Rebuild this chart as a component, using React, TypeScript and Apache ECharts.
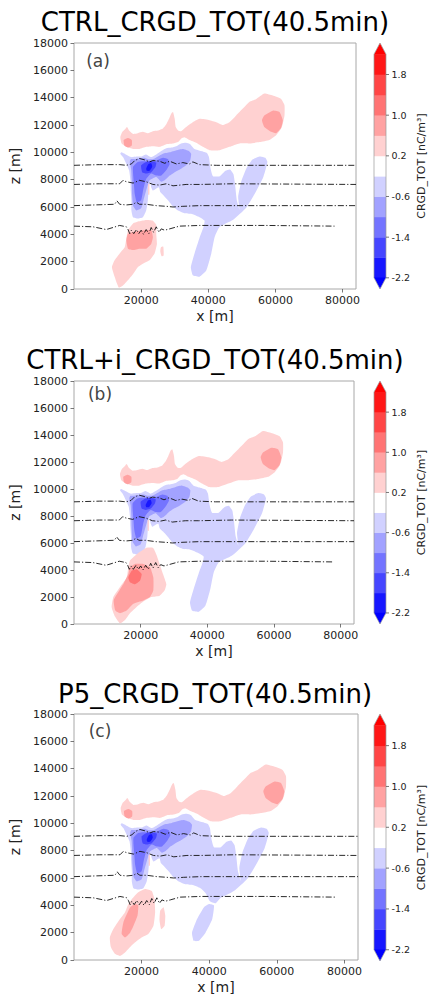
import React, { useEffect, useRef } from "react";
import * as echarts from "echarts";

// ---------- axes / colour scale ----------
const xTickValues = [20000, 40000, 60000, 80000];
const xRange = [0, 84000];
const zRange = [0, 18000];
const levels = [-2.2, -1.8, -1.4, -1.0, -0.6, -0.2, 0.2, 0.6, 1.0, 1.4, 1.8, 2.2];
const bandColors = [
  "#1717ff", "#4646ff", "#7474ff", "#a2a2ff", "#d1d1ff", "#ffffff",
  "#ffd1d1", "#ffa2a2", "#ff7474", "#ff4646", "#ff1717",
];
const underColor = "#0000ff";
const overColor = "#ff0000";
const cbTickValues = [-2.2, -1.4, -0.6, 0.2, 1.0, 1.8];
const titles = ["CTRL_CRGD_TOT(40.5min)", "CTRL+i_CRGD_TOT(40.5min)", "P5_CRGD_TOT(40.5min)"];
const tags = ["(a)", "(b)", "(c)"];
const cbLabel = "CRGD_TOT [nC/m³]";

// ---------- contour regions [x (m), z (m)] ----------
const upperRedPale = [[13800,11100],[14400,11500],[15400,11750],[15800,11850],[16400,11600],[17600,11350],[19000,11400],[20500,11500],[22000,11400],[23500,11550],[25000,11600],[26500,11750],[27500,12050],[28300,12450],[29000,12850],[29500,12950],[30000,12450],[30300,11850],[31000,11600],[31900,11550],[32900,11750],[33400,11850],[35400,12200],[37400,12450],[40400,12350],[42400,12200],[44300,12000],[46300,12200],[48300,12700],[50300,13200],[52300,13700],[54300,13900],[56700,14300],[59200,14150],[61700,13900],[62700,13450],[62700,12700],[62200,12100],[61700,11750],[60200,11250],[58200,10900],[55300,10750],[52300,10650],[49300,10650],[46300,10400],[43400,10150],[40400,10150],[38400,10400],[36400,10700],[34400,10900],[32900,11100],[31900,11000],[31000,10750],[29500,10650],[27500,10600],[25500,10400],[23500,10450],[21500,10400],[19500,10250],[17600,10250],[15600,10400],[14200,10650]];
const upperRedDarkL = [[14800,10900],[16100,11050],[17200,10900],[17200,10500],[16100,10350],[15000,10500]];
const upperRedDarkR = [[56700,12700],[59200,13050],[61200,12950],[62200,12350],[61700,11800],[60200,11400],[58700,11500],[56700,11850],[56000,12350]];

const blueMainUpper = [[14100,10000],[15400,9850],[17100,9650],[18600,9700],[20000,9700],[21500,9850],[23000,9650],[24500,9850],[26000,10100],[27500,10300],[29000,10350],[30500,10450],[31900,10650],[33400,10700],[34600,10600],[35900,10250],[37900,10100],[39600,9950],[40200,9650],[40700,8800],[41400,8250],[43400,8250],[45100,8650],[46500,8750],[47500,8400],[48000,7600],[48500,6500],[49300,5800],[48900,6750],[49800,7850],[51300,8800],[53100,9450],[55300,9700],[57000,9600],[57600,9300],[56400,8200],[53800,6950],[51300,5950],[47300,5050],[43400,4550]];
const blueLowerArmAB = [[41900,3800],[40900,2600],[39400,1350],[37400,900],[35400,1000],[34800,1600],[35900,2600],[37400,3750],[38600,4550],[38900,5000]];
const blueNeckC = [[41900,4150],[40200,4300],[38900,4900]];
const blueMainLower = [[37400,5250],[34900,5500],[32900,5550],[31000,5750],[29300,6100],[28000,6500],[26700,6850],[25700,7100],[25300,7450],[24500,7350],[23500,7200],[23000,7450],[22700,7850],[22300,7450],[22000,6500],[21500,5750],[20500,5250],[19000,5150],[17600,5250],[17100,5750],[17100,6500],[16900,7200],[16800,7950],[16400,8700],[15600,9150],[14600,9650],[13800,9900]];
const blueArmC = [[39900,4100],[41400,4000],[40900,3000],[38900,2000],[36900,1400],[35400,1400],[34900,2000],[36400,3000],[38400,3850]];
const blueMid = [[16900,9500],[18100,9500],[19500,9550],[21000,9600],[22000,9500],[23500,9500],[25000,9700],[26500,9900],[28500,10000],[30500,10150],[32400,10250],[34200,10100],[34900,9900],[34600,9400],[33400,9050],[31900,8800],[30000,8550],[28500,8300],[27000,7950],[26000,7850],[24500,8200],[22500,7950],[21500,7200],[20700,6500],[20000,5900],[18600,5750],[17600,6100],[17300,6950],[17200,7950],[17000,8800],[16600,9300]];
const blueDeep = [[17600,8950],[19000,9300],[20500,9350],[22000,9350],[24000,9350],[26500,9600],[28000,9500],[28500,9150],[27500,8700],[26000,8300],[24500,8300],[23000,8450],[21500,8050],[20700,7350],[20000,6500],[18700,6350],[18100,6950],[17800,7850],[17600,8450]];
const blueDeeper = [[20000,9050],[21500,9300],[23000,9350],[24500,9250],[24300,8950],[23000,8550],[21500,8450],[20300,8550]];
const blueCore = [[21500,8800],[22200,9150],[23000,9200],[23300,8950],[22500,8650],[21700,8650]];
const redSlit = [[22100,7700],[22450,7700],[22450,6900],[22100,6900]];

const lowerRedPaleA = [[19500,4950],[21500,5050],[23500,5000],[24500,4700],[24500,4050],[24700,3300],[24000,2600],[22500,2100],[20500,1850],[19000,1600],[17600,1100],[16100,650],[14600,250],[13400,100],[12800,400],[12100,900],[11300,1600],[12100,2100],[13600,2600],[15100,3050],[15600,3700],[16100,4300],[17600,4800]];
const lowerRedMidA = [[16100,4050],[20500,4300],[23000,4300],[23500,3800],[23000,3300],[21500,2950],[19500,2950],[17600,2850],[16100,2950],[15600,3550]];
const redSpotA = [[25900,3050],[26600,3100],[26700,2450],[26100,2400],[25700,2750]];

const lowerRedPaleB = [[11800,2000],[13800,2750],[15800,3450],[16300,4200],[16800,4700],[18700,5150],[21700,5650],[23700,5650],[24700,5150],[25700,4450],[26700,3700],[27700,2950],[27200,2500],[25700,2100],[23200,2000],[20700,1650],[18700,1250],[16800,800],[15300,300],[13800,50],[12300,550],[11300,1250]];
const lowerRedMidB = [[11900,1750],[13400,2400],[14900,3000],[16300,3700],[16800,4200],[18300,4450],[20800,4450],[22800,4200],[23800,3450],[23800,2500],[22800,2000],[20800,1750],[17800,1500],[15800,1000],[13800,800],[12400,1000]];
const lowerRedDarkB = [[16300,3450],[17300,3950],[18800,4050],[20300,3700],[19800,3200],[18300,2950],[16800,3100]];

const lowerRedPaleC = [[21000,5200],[23000,5050],[23800,4450],[24000,3500],[23500,2500],[22000,1900],[20000,1650],[18100,1300],[16600,950],[15100,550],[13600,300],[12100,450],[10900,950],[10600,1650],[11600,2250],[13600,3000],[15100,3500],[16100,4100],[17100,4450],[19000,4950]];
const lowerRedMidC = [[14600,2750],[15600,3350],[16600,3850],[18100,4100],[19000,4000],[18800,3250],[17600,2500],[16600,2000],[15100,1650],[14100,1900]];
const redSpotC = [[25500,3600],[26500,3850],[27000,3250],[26800,2500],[25800,2250],[25300,2900]];

// ---------- dash-dot contour lines ----------
const iso1 = [[0,9050],[7600,9100],[13600,9100],[15600,9050],[17100,9150],[18100,9400],[19500,9550],[21000,9450],[22500,9300],[23500,9400],[25500,9350],[27000,9200],[28500,9350],[30500,9150],[32400,9250],[34400,9150],[35400,9300],[37400,9100],[42400,9050],[47300,9050],[84000,9050]];
const iso2 = [[0,7650],[7600,7700],[13600,7700],[14600,7950],[15600,7850],[17600,7750],[19500,7950],[21500,7850],[23500,7650],[25500,7600],[27500,7700],[29500,7550],[33400,7650],[37400,7650],[47300,7700],[84000,7650]];
const iso3 = [[0,6100],[12100,6200],[12800,6450],[13600,6200],[15600,6150],[17600,6200],[18600,6350],[19500,6200],[21500,6200],[24500,6100],[27500,6050],[29500,6000],[32400,6050],[37400,6100],[47300,6100],[84000,6100]];
const iso4 = [[0,4600],[5700,4550],[9600,4350],[11600,4500],[13600,4650],[15600,4550],[16100,4350],[16600,4050],[17100,4300],[17800,4050],[18600,4350],[19300,4050],[20000,4300],[20700,4000],[21500,4350],[22300,4050],[23000,4500],[23700,4150],[24500,4550],[25300,4150],[26000,4400],[27000,4300],[28500,4400],[31400,4600],[37400,4650],[47300,4650],[57200,4650],[77600,4600]];
const isoLines = [iso1, iso2, iso3, iso4];

type Shape = { band: number; pts: number[][] };

const blueA = [...blueMainUpper, ...blueLowerArmAB, ...blueMainLower];
const blueC = [...blueMainUpper, ...blueNeckC, ...blueMainLower];

const commonUpper: Shape[] = [
  { band: 6, pts: upperRedPale },
  { band: 7, pts: upperRedDarkL },
  { band: 7, pts: upperRedDarkR },
];
const blueStack: Shape[] = [
  { band: 3, pts: blueMid },
  { band: 2, pts: blueDeep },
  { band: 1, pts: blueDeeper },
  { band: 0, pts: blueCore },
];
const shapesA: Shape[] = [
  ...commonUpper,
  { band: 4, pts: blueA },
  ...blueStack,
  { band: 6, pts: redSlit },
  { band: 6, pts: lowerRedPaleA },
  { band: 6, pts: redSpotA },
  { band: 7, pts: lowerRedMidA },
];
const shapesB: Shape[] = [
  ...commonUpper,
  { band: 4, pts: blueA },
  ...blueStack,
  { band: 6, pts: redSlit },
  { band: 6, pts: lowerRedPaleB },
  { band: 7, pts: lowerRedMidB },
  { band: 8, pts: lowerRedDarkB },
];
const shapesC: Shape[] = [
  ...commonUpper,
  { band: 4, pts: blueC },
  { band: 4, pts: blueArmC },
  ...blueStack,
  { band: 6, pts: redSlit },
  { band: 6, pts: lowerRedPaleC },
  { band: 6, pts: redSpotC },
  { band: 7, pts: lowerRedMidC },
];

const FONT = '"DejaVu Sans", sans-serif';

export default function App() {
  const ref = useRef<HTMLDivElement>(null);

  useEffect(() => {
    if (!ref.current) return;
    const chart = echarts.init(ref.current, null, { renderer: "svg" });

    const layout = [
      { left: 74, top: 43, width: 282, height: 246, titleY: 22, tagX: 98, tagY: 61, shapes: shapesA },
      { left: 74, top: 381, width: 280, height: 243, titleY: 359.5, tagX: 100, tagY: 394, shapes: shapesB },
      { left: 74, top: 714, width: 284, height: 247, titleY: 694, tagX: 100, tagY: 731, shapes: shapesC },
    ];

    const grids: any[] = [];
    const xAxes: any[] = [];
    const yAxes: any[] = [];
    const series: any[] = [];
    const graphics: any[] = [];

    const cbX = 374;
    const cbW = 12;
    const plain = (v: number) => String(v);

    layout.forEach((p, i) => {
      grids.push({
        left: p.left, top: p.top, width: p.width, height: p.height,
        show: true, borderColor: "#a8a8a8", borderWidth: 1, backgroundColor: "transparent",
      });
      xAxes.push({
        type: "value", gridIndex: i, min: xRange[0], max: xRange[1],
        name: "x [m]", nameLocation: "middle", nameGap: 20,
        nameTextStyle: { fontSize: 14, color: "#222", fontFamily: FONT },
        axisLine: { show: false },
        axisTick: { show: true, length: 3.5, customValues: xTickValues, lineStyle: { color: "#555", width: 0.8 } },
        axisLabel: { fontSize: 11, color: "#222", fontFamily: FONT, margin: 6, customValues: xTickValues, formatter: plain },
        splitLine: { show: false },
      });
      yAxes.push({
        type: "value", gridIndex: i, min: zRange[0], max: zRange[1], interval: 2000,
        name: "z [m]", nameLocation: "middle", nameGap: 47,
        nameTextStyle: { fontSize: 14, color: "#222", fontFamily: FONT },
        axisLine: { show: false },
        axisTick: { show: true, length: 3.5, lineStyle: { color: "#555", width: 0.8 } },
        axisLabel: { fontSize: 11, color: "#222", fontFamily: FONT, margin: 6, formatter: plain },
        splitLine: { show: false },
      });

      const shapes = p.shapes;
      series.push({
        type: "custom",
        xAxisIndex: i,
        yAxisIndex: i,
        clip: true,
        silent: true,
        data: shapes.map((s) => s.pts[0]),
        encode: { x: 0, y: 1 },
        renderItem: (params: any, api: any) => {
          const s = shapes[params.dataIndex];
          const pts = s.pts.map((pt) => api.coord(pt));
          return {
            type: "polygon",
            shape: { points: pts, smooth: 0.15 },
            style: { fill: bandColors[s.band] },
          };
        },
      });

      isoLines.forEach((ln) => {
        series.push({
          type: "line",
          xAxisIndex: i,
          yAxisIndex: i,
          data: ln,
          showSymbol: false,
          silent: true,
          lineStyle: { color: "#111", width: 0.9, type: [6, 2, 1.2, 2] },
          z: 5,
        });
      });

      graphics.push({
        type: "text", x: 215, y: p.titleY, silent: true,
        style: { text: titles[i], fontSize: 26, fontFamily: FONT, fill: "#000", align: "center", verticalAlign: "middle" },
      });
      graphics.push({
        type: "text", x: p.tagX, y: p.tagY, silent: true,
        style: { text: tags[i], fontSize: 17, fontFamily: FONT, fill: "#444", align: "center", verticalAlign: "middle" },
      });

      // colorbar
      const top = p.top;
      const height = p.height;
      const interior = height / 1.1;
      const ext = (height - interior) / 2;
      const y0 = top + ext;
      const n = levels.length - 1;
      const vMin = levels[0];
      const vMax = levels[n];
      const yOf = (v: number) => y0 + ((vMax - v) / (vMax - vMin)) * interior;
      for (let k = 0; k < n; k++) {
        const ya = yOf(levels[k + 1]);
        const yb = yOf(levels[k]);
        graphics.push({
          type: "rect", silent: true,
          shape: { x: cbX, y: ya, width: cbW, height: yb - ya + 0.4 },
          style: { fill: bandColors[k] },
        });
      }
      graphics.push({
        type: "polygon", silent: true,
        shape: { points: [[cbX, y0 + 0.3], [cbX + cbW, y0 + 0.3], [cbX + cbW / 2, top]] },
        style: { fill: overColor },
      });
      graphics.push({
        type: "polygon", silent: true,
        shape: { points: [[cbX, y0 + interior - 0.3], [cbX + cbW, y0 + interior - 0.3], [cbX + cbW / 2, top + height]] },
        style: { fill: underColor },
      });
      graphics.push({
        type: "polygon", silent: true,
        shape: {
          points: [
            [cbX + cbW / 2, top], [cbX + cbW, y0], [cbX + cbW, y0 + interior],
            [cbX + cbW / 2, top + height], [cbX, y0 + interior], [cbX, y0],
          ],
        },
        style: { fill: "none", stroke: "#999", lineWidth: 0.7 },
      });
      cbTickValues.forEach((v) => {
        const y = yOf(v);
        graphics.push({
          type: "line", silent: true,
          shape: { x1: cbX + cbW, y1: y, x2: cbX + cbW + 3, y2: y },
          style: { stroke: "#555", lineWidth: 0.8 },
        });
        graphics.push({
          type: "text", silent: true, x: cbX + cbW + 5.5, y,
          style: { text: v.toFixed(1), fontSize: 9.5, fontFamily: FONT, fill: "#222", align: "left", verticalAlign: "middle" },
        });
      });
      graphics.push({
        type: "text", silent: true, x: 421, y: top + height / 2, rotation: Math.PI / 2,
        style: { text: cbLabel, fontSize: 11, fontFamily: FONT, fill: "#222", align: "center", verticalAlign: "middle" },
      });
    });

    chart.setOption({
      animation: false,
      backgroundColor: "#ffffff",
      grid: grids,
      xAxis: xAxes,
      yAxis: yAxes,
      series,
      graphic: graphics,
    });

    return () => chart.dispose();
  }, []);

  return (
    <div
      ref={ref}
      style={{ position: "absolute", left: 0, top: 0, width: 430, height: 995 }}
    />
  );
}
